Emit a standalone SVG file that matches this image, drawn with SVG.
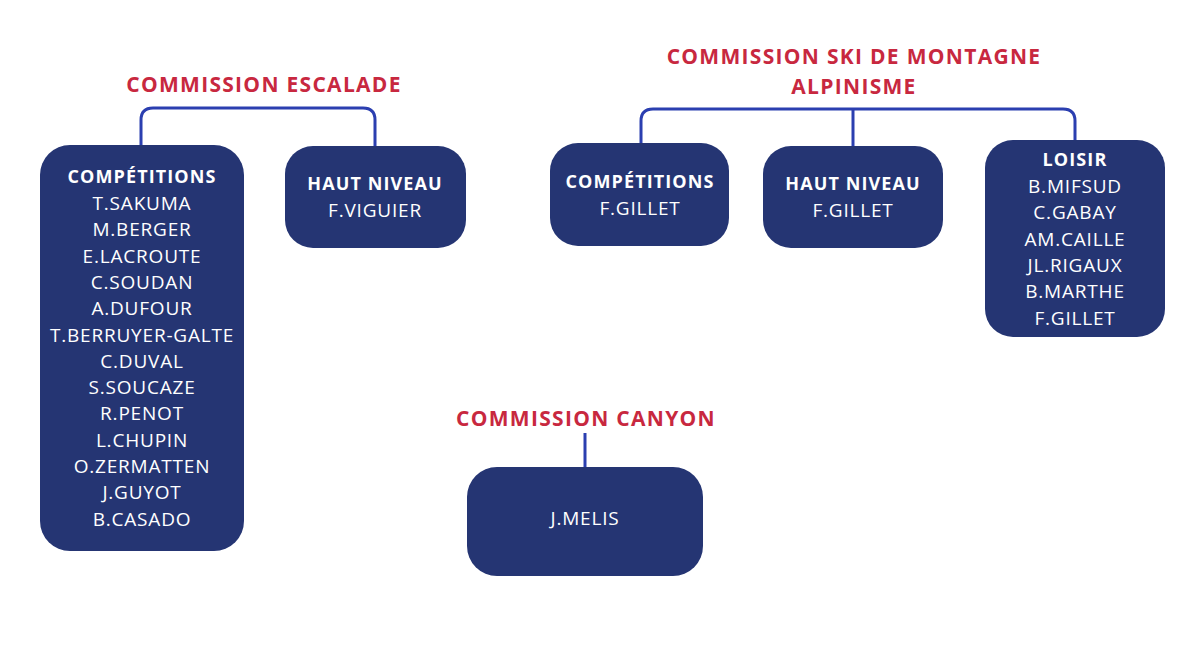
<svg xmlns="http://www.w3.org/2000/svg" width="1200" height="647" viewBox="0 0 1200 647">
<style>
.box{fill:#253573;}
.title{font-family:"Open Sans","Liberation Sans",sans-serif;font-weight:700;font-size:21px;letter-spacing:1.3px;fill:#C8283F;text-anchor:middle;}
.hd{font-family:"Open Sans","Liberation Sans",sans-serif;font-weight:700;font-size:18px;letter-spacing:1.1px;fill:#ffffff;text-anchor:middle;}
.nm{font-family:"Open Sans","Liberation Sans",sans-serif;font-weight:400;font-size:19px;letter-spacing:0.8px;fill:#ffffff;text-anchor:middle;}
.conn{fill:none;stroke:#2B3FB0;stroke-width:3;}
</style>
<rect width="1200" height="647" fill="#ffffff"/>
<g id="connectors">
<path class="conn" d="M141,146 V120 Q141,108 153,108 H363 Q375,108 375,120 V147"/>
<path class="conn" d="M641,145 V121 Q641,109 653,109 H1063 Q1075,109 1075,121 V141"/>
<path class="conn" d="M853,109 V147"/>
<path class="conn" d="M585,433 V468"/>
</g>
<g id="title-escalade"><text class="title" x="264" y="92">COMMISSION ESCALADE</text></g>
<g id="title-ski"><text class="title" x="854" y="64">COMMISSION SKI DE MONTAGNE</text><text class="title" x="854" y="94">ALPINISME</text></g>
<g id="title-canyon"><text class="title" x="586" y="426">COMMISSION CANYON</text></g>
<g id="esc-competitions">
<rect class="box" x="40" y="145" width="204" height="406" rx="30"/>
<text class="hd" x="142" y="183">COMPÉTITIONS</text>
<text class="nm" x="142" y="210">T.SAKUMA</text>
<text class="nm" x="142" y="236">M.BERGER</text>
<text class="nm" x="142" y="263">E.LACROUTE</text>
<text class="nm" x="142" y="289">C.SOUDAN</text>
<text class="nm" x="142" y="315">A.DUFOUR</text>
<text class="nm" x="142" y="342">T.BERRUYER-GALTE</text>
<text class="nm" x="142" y="368">C.DUVAL</text>
<text class="nm" x="142" y="394">S.SOUCAZE</text>
<text class="nm" x="142" y="420">R.PENOT</text>
<text class="nm" x="142" y="447">L.CHUPIN</text>
<text class="nm" x="142" y="473">O.ZERMATTEN</text>
<text class="nm" x="142" y="499">J.GUYOT</text>
<text class="nm" x="142" y="526">B.CASADO</text>
</g>
<g id="esc-haut-niveau">
<rect class="box" x="285" y="146" width="181" height="102" rx="28"/>
<text class="hd" x="375" y="190">HAUT NIVEAU</text>
<text class="nm" x="375" y="217">F.VIGUIER</text>
</g>
<g id="ski-competitions">
<rect class="box" x="550" y="143" width="179" height="103" rx="28"/>
<text class="hd" x="640" y="188">COMPÉTITIONS</text>
<text class="nm" x="640" y="215">F.GILLET</text>
</g>
<g id="ski-haut-niveau">
<rect class="box" x="763" y="146" width="180" height="102" rx="28"/>
<text class="hd" x="853" y="190">HAUT NIVEAU</text>
<text class="nm" x="853" y="217">F.GILLET</text>
</g>
<g id="ski-loisir">
<rect class="box" x="985" y="140" width="180" height="197" rx="28"/>
<text class="hd" x="1075" y="166">LOISIR</text>
<text class="nm" x="1075" y="193">B.MIFSUD</text>
<text class="nm" x="1075" y="219">C.GABAY</text>
<text class="nm" x="1075" y="246">AM.CAILLE</text>
<text class="nm" x="1075" y="272">JL.RIGAUX</text>
<text class="nm" x="1075" y="298">B.MARTHE</text>
<text class="nm" x="1075" y="325">F.GILLET</text>
</g>
<g id="canyon">
<rect class="box" x="467" y="467" width="236" height="109" rx="30"/>
<text class="nm" x="585" y="525">J.MELIS</text>
</g>
</svg>
